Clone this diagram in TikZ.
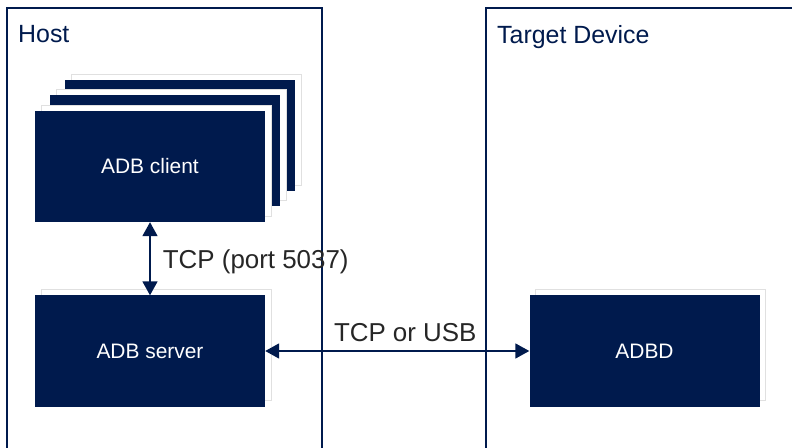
\documentclass[tikz,border=0pt]{standalone}
\usepackage{fontspec}
\setmainfont{Liberation Sans}
\usetikzlibrary{arrows.meta, shadows}
\definecolor{adbnavy}{RGB}{0,26,77}
\tikzset{
    frame/.style={draw=adbnavy, line width=1.6bp},
    title/.style={anchor=north west, inner sep=0pt, text=adbnavy, font=\fontsize{25}{30}\selectfont},
    adbbox/.style={fill=adbnavy, text=white, inner sep=0pt,
        minimum width=230bp, minimum height=111bp, font=\fontsize{21}{25}\selectfont,
        copy shadow={shadow xshift=6bp, shadow yshift=6bp, fill=white, draw=black!12, line width=0.6bp}},
    link/.style={draw=adbnavy, line width=1.8bp,
        >={Triangle[width=15bp,length=14bp]}, <->},
    linklabel/.style={inner sep=0pt, text=black!85, font=\fontsize{26}{30}\selectfont}
}
\begin{document}
\begin{tikzpicture}[x=1bp, y=-1bp]
    \useasboundingbox (0,0) rectangle (792,448);

    % frames
    \draw[frame] (7,448) -- (7,8) -- (322,8) -- (322,448);
    \draw[frame] (486,448) -- (486,8) -- (792,8);
    \node[title] (host) at (18,25) {Host};
    \node[title] (target) at (497,25) {Target Device};

    % boxes
    \node[adbbox] (client3) at (180,136) {};
    \node[adbbox] (client2) at (165,151) {};
    \node[adbbox] (client) at (150,166.5) {ADB client};
    \node[adbbox] (server) at (150,351) {ADB server};
    \node[adbbox] (adbd) at (644.5,351) {ADBD};

    % connections
    \draw[link] (client) -- (server)
        node[midway, right=12bp, yshift=-3bp, linklabel] {TCP (port 5037)};
    \draw[link] (server) -- (adbd)
        node[midway, above=8bp, xshift=8bp, linklabel] {TCP or USB};
\end{tikzpicture}
\end{document}
